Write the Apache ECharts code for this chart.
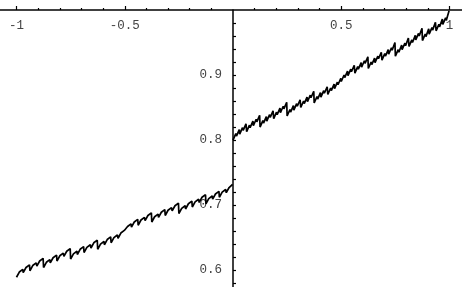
<!DOCTYPE html>
<html>
<head>
<meta charset="utf-8">
<script src="https://cdn.jsdelivr.net/npm/echarts@6/dist/echarts.min.js"></script>
<style>
html,body{margin:0;padding:0;background:#fff;}
#c{width:462px;height:287px;}
</style>
</head>
<body>
<div id="c"></div>
<script>
// segment start x positions (each segment rises with a small notch, then the curve drops)
const leftSegX = [-1, -0.969, -0.938, -0.906, -0.875, -0.844, -0.813, -0.781, -0.75, -0.719, -0.688, -0.656, -0.625, -0.594, -0.563, -0.531,
  -0.5, -0.469, -0.438, -0.406, -0.375, -0.344, -0.313, -0.281, -0.25, -0.219, -0.188, -0.156, -0.125, -0.094, -0.063, -0.031];
const leftLow = [0.589, 0.596, 0.599, 0.606, 0.604, 0.611, 0.614, 0.621, 0.617, 0.624, 0.627, 0.634, 0.632, 0.639, 0.642, 0.649,
  0.659, 0.666, 0.669, 0.676, 0.674, 0.681, 0.684, 0.691, 0.687, 0.694, 0.697, 0.704, 0.702, 0.709, 0.712, 0.719];
const leftMidHigh = [0.597, 0.604, 0.607, 0.614, 0.612, 0.619, 0.622, 0.629, 0.625, 0.632, 0.635, 0.642, 0.640, 0.647, 0.650, 0.657,
  0.667, 0.674, 0.677, 0.684, 0.682, 0.689, 0.692, 0.699, 0.695, 0.702, 0.705, 0.712, 0.710, 0.717, 0.720, 0.727];
const leftMidLow = [0.594, 0.601, 0.604, 0.611, 0.609, 0.616, 0.619, 0.626, 0.622, 0.629, 0.632, 0.639, 0.637, 0.644, 0.647, 0.654,
  0.664, 0.671, 0.674, 0.681, 0.679, 0.686, 0.689, 0.696, 0.692, 0.699, 0.702, 0.709, 0.707, 0.714, 0.717, 0.724];
const leftHigh = [0.601, 0.608, 0.611, 0.618, 0.616, 0.623, 0.626, 0.633, 0.629, 0.636, 0.639, 0.646, 0.644, 0.651, 0.654, 0.661,
  0.671, 0.678, 0.681, 0.688, 0.686, 0.693, 0.696, 0.703, 0.699, 0.706, 0.709, 0.716, 0.714, 0.721, 0.724, 0.732];

const rightSegX = [0, 0.031, 0.063, 0.094, 0.125, 0.156, 0.188, 0.219, 0.25, 0.281, 0.313, 0.344, 0.375, 0.406, 0.438, 0.469,
  0.5, 0.531, 0.563, 0.594, 0.625, 0.656, 0.688, 0.719, 0.75, 0.781, 0.813, 0.844, 0.875, 0.906, 0.938, 0.969];
const rightLow = [0.800, 0.809, 0.813, 0.822, 0.820, 0.829, 0.833, 0.842, 0.837, 0.846, 0.850, 0.859, 0.857, 0.866, 0.870, 0.879,
  0.890, 0.899, 0.903, 0.912, 0.910, 0.919, 0.923, 0.932, 0.929, 0.939, 0.944, 0.954, 0.953, 0.963, 0.968, 0.978];
const rightMidHigh = [0.810, 0.819, 0.823, 0.832, 0.830, 0.839, 0.843, 0.852, 0.847, 0.856, 0.860, 0.869, 0.867, 0.876, 0.880, 0.889,
  0.900, 0.909, 0.913, 0.922, 0.920, 0.929, 0.933, 0.942, 0.939, 0.949, 0.954, 0.964, 0.963, 0.973, 0.978, 0.988];
const rightMidLow = [0.806, 0.815, 0.819, 0.828, 0.826, 0.835, 0.839, 0.848, 0.843, 0.852, 0.856, 0.865, 0.863, 0.872, 0.876, 0.885,
  0.896, 0.905, 0.909, 0.918, 0.916, 0.925, 0.929, 0.938, 0.935, 0.945, 0.950, 0.960, 0.959, 0.969, 0.974, 0.984];
const rightHigh = [0.816, 0.825, 0.829, 0.838, 0.836, 0.845, 0.849, 0.858, 0.853, 0.862, 0.866, 0.875, 0.873, 0.882, 0.886, 0.895,
  0.906, 0.915, 0.919, 0.928, 0.926, 0.935, 0.939, 0.950, 0.946, 0.957, 0.961, 0.972, 0.971, 0.981, 0.986, 0.999];

const xTickLabels = [-1, -0.5, 0.5, 1];
const xMinorTicks = [-0.9, -0.8, -0.7, -0.6, -0.4, -0.3, -0.2, -0.1, 0.1, 0.2, 0.3, 0.4, 0.6, 0.7, 0.8, 0.9];
const yTickLabels = [0.6, 0.7, 0.8, 0.9];
const yTicks = [0.58, 0.6, 0.62, 0.64, 0.66, 0.68, 0.7, 0.72, 0.74, 0.76, 0.78, 0.8, 0.82, 0.84, 0.86, 0.88, 0.9, 0.92, 0.94, 0.96, 0.98];

// offsets of the points inside one 1/32-wide segment
const P_MIDHI = 0.013, P_MIDLO = 0.016, P_END = 0.029;
function build(xs, lo, mh, ml, hi) {
  const out = [];
  for (let i = 0; i < xs.length; i++) {
    out.push([xs[i], lo[i]]);
    out.push([xs[i] + P_MIDHI, mh[i]]);
    out.push([xs[i] + P_MIDLO, ml[i]]);
    out.push([xs[i] + P_END, hi[i]]);
  }
  return out;
}

const FONT = 'Liberation Mono';
const X_MIN = -1.0762, X_MAX = 1.0577;
const W = 462;
const zeroPx = (0 - X_MIN) / (X_MAX - X_MIN) * W;

const chart = echarts.init(document.getElementById('c'), null, {renderer: 'canvas'});
chart.setOption({
  animation: false,
  backgroundColor: '#fff',
  grid: {left: 0, right: 0, top: 10, bottom: 0, containLabel: false, outerBoundsMode: 'none'},
  xAxis: [{
    type: 'value', position: 'top', min: X_MIN, max: X_MAX,
    axisLine: {onZero: false, lineStyle: {color: '#000', width: 1.5}},
    axisTick: {show: true, length: 4, customValues: xTickLabels, lineStyle: {color: '#000', width: 1.2}},
    axisLabel: {show: true, inside: true, margin: 9, customValues: xTickLabels,
      fontFamily: FONT, fontSize: 12.5, color: '#444',
      formatter: v => String(v)},
    splitLine: {show: false}
  }, {
    type: 'value', position: 'top', min: X_MIN, max: X_MAX,
    axisLine: {show: false, onZero: false},
    axisTick: {show: true, length: 2, customValues: xMinorTicks, lineStyle: {color: '#000', width: 1.2}},
    axisLabel: {show: false},
    splitLine: {show: false}
  }],
  yAxis: {
    type: 'value', min: 0.574, max: 1.0, position: 'left', offset: -zeroPx,
    axisLine: {onZero: false, lineStyle: {color: '#000', width: 1.5}},
    axisTick: {show: true, inside: true, length: 3, customValues: yTicks, lineStyle: {color: '#000', width: 1.2}},
    axisLabel: {show: true, margin: 11, customValues: yTickLabels,
      fontFamily: FONT, fontSize: 12.5, color: '#444',
      formatter: v => v.toFixed(1)},
    splitLine: {show: false}
  },
  series: [{
    type: 'line', xAxisIndex: 0, data: build(leftSegX, leftLow, leftMidHigh, leftMidLow, leftHigh),
    showSymbol: false, lineStyle: {color: '#000', width: 1.7}
  }, {
    type: 'line', xAxisIndex: 0, data: build(rightSegX, rightLow, rightMidHigh, rightMidLow, rightHigh),
    showSymbol: false, lineStyle: {color: '#000', width: 1.7}
  }]
});
</script>
</body>
</html>
